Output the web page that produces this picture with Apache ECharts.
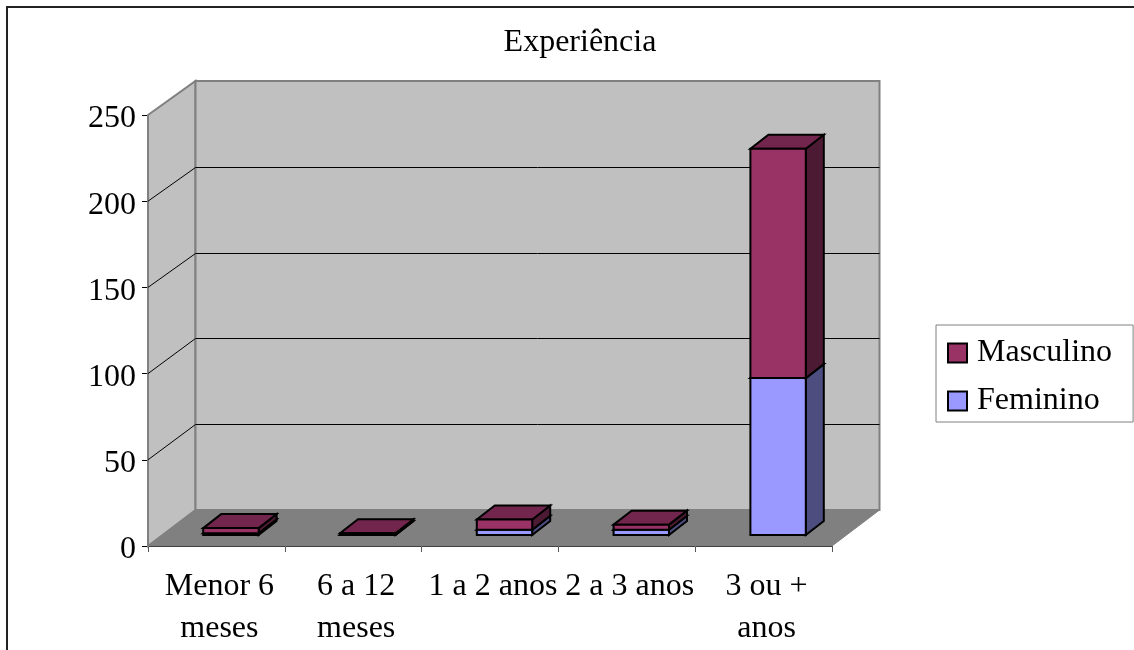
<!DOCTYPE html>
<html>
<head>
<meta charset="utf-8">
<title>Experiência</title>
<script src="https://cdn.jsdelivr.net/npm/echarts@6/dist/echarts.min.js"></script>
<style>
html,body{margin:0;padding:0;background:#fff;overflow:hidden}
#chart{width:1134px;height:650px}
</style>
</head>
<body>
<div id="chart"></div>
<script>
var categories = ['Menor 6\nmeses', '6 a 12\nmeses', '1 a 2 anos', '2 a 3 anos', '3 ou +\nanos'];
var feminino = [1, 0, 3, 3, 91];
var masculino = [3, 1, 6, 3, 133];
var yTicks = [50, 100, 150, 200];

// fake 3d, offsets in px
var wallDx = 47.5, wallDyTop = 34, wallDyBottom = 36;
var barDx = 18, barDy = 14;
var barShiftX = 14.5, barShiftY = 11;
var serifFont = '"Liberation Serif"';

var myChart = echarts.init(document.getElementById('chart'));

function poly(points, fill, stroke, width) {
    return {
        type: 'polygon',
        shape: {points: points},
        style: {fill: fill, stroke: stroke, lineWidth: width, lineJoin: 'miter'}
    };
}

function renderWalls(params, api) {
    var c = params.coordSys;
    var l = c.x, t = c.y, r = c.x + c.width, b = c.y + c.height;
    var backT = t - wallDyTop, backB = b - wallDyBottom;
    var children = [
        poly([[l, t], [l + wallDx, backT], [l + wallDx, backB], [l, b]], '#C0C0C0', '#808080', 2),
        poly([[l + wallDx, backT], [r + wallDx, backT], [r + wallDx, backB], [l + wallDx, backB]], '#C0C0C0', '#808080', 2),
        poly([[l, b], [l + wallDx, backB], [r + wallDx, backB], [r, b]], '#808080', '#808080', 1)
    ];
    yTicks.forEach(function (v) {
        var front = api.coord([0, v])[1];
        var back = Math.round(backB - (b - front) / c.height * (backB - backT)) + 0.5;
        children.push({
            type: 'polyline',
            shape: {points: [[l, front], [l + wallDx, back], [r + wallDx, back]]},
            style: {fill: null, stroke: '#000', lineWidth: 1}
        });
    });
    return {type: 'group', children: children};
}

function barRenderer(front, side, top) {
    return function (params, api) {
        var i = api.value(0);
        var p0 = api.coord([i, api.value(1)]);
        var p1 = api.coord([i, api.value(2)]);
        var w = api.size([1, 0])[0] * 0.405;
        var x0 = p0[0] + barShiftX - w / 2, x1 = x0 + w;
        var y0 = p0[1] - barShiftY, y1 = p1[1] - barShiftY;
        return {
            type: 'group',
            children: [
                poly([[x1, y0], [x1 + barDx, y0 - barDy], [x1 + barDx, y1 - barDy], [x1, y1]], side, '#000', 2),
                poly([[x0, y1], [x0 + barDx, y1 - barDy], [x1 + barDx, y1 - barDy], [x1, y1]], top, '#000', 2),
                poly([[x0, y0], [x1, y0], [x1, y1], [x0, y1]], front, '#000', 2)
            ]
        };
    };
}

var femData = [], mascData = [];
categories.forEach(function (c, i) {
    femData.push([i, 0, feminino[i]]);
    mascData.push([i, feminino[i], feminino[i] + masculino[i]]);
});

var option = {
    animation: false,
    backgroundColor: '#fff',
    title: {
        text: 'Experiência',
        left: 575,
        top: 22,
        textAlign: 'center',
        textStyle: {fontFamily: serifFont, fontSize: 32, fontWeight: 'normal', color: '#000'}
    },
    legend: {
        left: 936,
        top: 325,
        orient: 'vertical',
        data: ['Masculino', 'Feminino'],
        icon: 'rect',
        itemWidth: 19,
        itemHeight: 19,
        itemGap: 16,
        padding: [12, 21, 5, 11],
        borderColor: '#808080',
        borderWidth: 1,
        backgroundColor: '#fff',
        itemStyle: {borderColor: '#000', borderWidth: 2},
        textStyle: {fontFamily: serifFont, fontSize: 32, color: '#000', padding: [0, 0, 0, 5]}
    },
    grid: {left: 148, top: 115, width: 684, height: 432},
    xAxis: {
        type: 'category',
        data: categories,
        axisLine: {lineStyle: {color: '#000', width: 1}},
        axisTick: {show: true, length: 6, lineStyle: {color: '#555'}},
        axisLabel: {
            interval: 0,
            margin: 20,
            lineHeight: 42,
            hideOverlap: false,
            padding: [0, 0, 0, 6],
            fontFamily: serifFont,
            fontSize: 32,
            color: '#000'
        }
    },
    yAxis: {
        type: 'value',
        min: 0,
        max: 250,
        interval: 50,
        axisLine: {show: true, lineStyle: {color: '#808080', width: 1}},
        axisTick: {show: true, length: 6, lineStyle: {color: '#000'}},
        splitLine: {show: false},
        axisLabel: {margin: 12, verticalAlign: 'top', lineHeight: 8, fontFamily: serifFont, fontSize: 32, color: '#000'}
    },
    graphic: [{
        type: 'polyline',
        shape: {points: [[7, 650], [7, 7], [1134, 7]]},
        style: {fill: null, stroke: '#222', lineWidth: 2},
        z: 100
    }],
    series: [
        {name: 'walls', type: 'custom', z: 1, silent: true, data: [[0, 0]], renderItem: renderWalls},
        {
            name: 'Feminino', type: 'custom', z: 3, data: femData,
            itemStyle: {color: '#9999FF'},
            encode: {x: 0, y: 2},
            renderItem: barRenderer('#9999FF', '#4D4D80', '#737399')
        },
        {
            name: 'Masculino', type: 'custom', z: 4, data: mascData,
            itemStyle: {color: '#993366'},
            encode: {x: 0, y: 2},
            renderItem: barRenderer('#993366', '#4D1A33', '#73264D')
        }
    ]
};
myChart.setOption(option);
</script>
</body>
</html>
